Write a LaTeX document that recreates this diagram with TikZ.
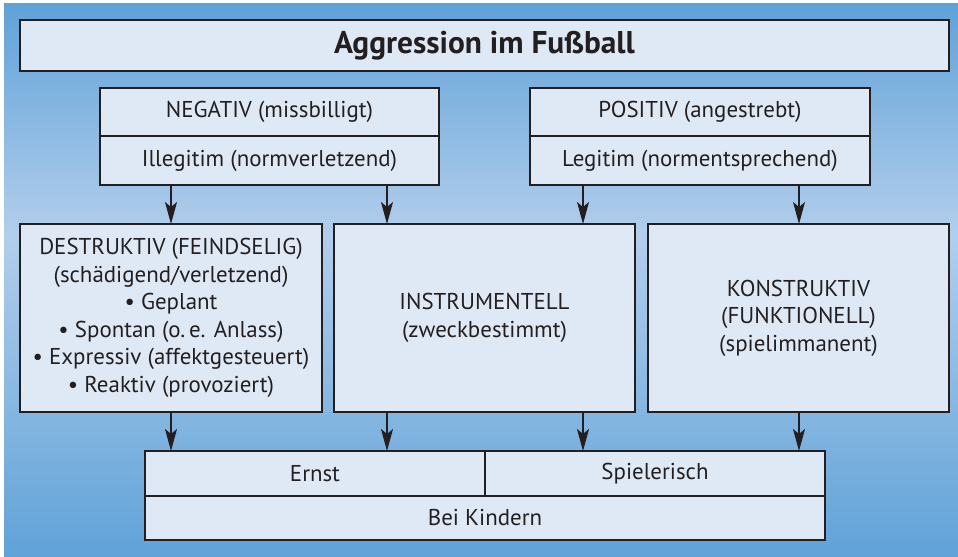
\documentclass[tikz,border=0pt]{standalone}
\usepackage{fontspec}
\setmainfont{PT Sans}
\usetikzlibrary{arrows.meta}
\definecolor{bgdark}{RGB}{96,162,216}
\definecolor{bglight}{RGB}{178,206,236}
\definecolor{boxfill}{RGB}{223,233,246}
\definecolor{ink}{RGB}{35,31,32}
\tikzset{
  panel/.style={draw=ink, line width=1.3bp, fill=boxfill, text=ink, align=center,
    inner sep=0pt, outer sep=0pt},
  bigtxt/.style={font=\fontsize{23}{28}\selectfont},
  midtxt/.style={font=\fontsize{23}{27.6}\selectfont},
  arr/.style={draw=ink, line width=1.3bp, -{Stealth[length=22bp, width=12bp, inset=5bp]}},
}
\begin{document}
\begin{tikzpicture}[x=1bp, y=-1bp]
  \useasboundingbox (0,0) rectangle (958,557);
  % page background: white rim, blue vertical gradient
  \fill[white] (0,0) rectangle (958,557);
  \shade[top color=bgdark, bottom color=bglight] (4,4) rectangle (958,235);
  \shade[top color=bglight, bottom color=bgdark] (4,234.5) rectangle (958,557);

  % title
  \node[panel, minimum width=929bp, minimum height=51bp,
        font=\fontsize{31.5}{34}\selectfont\bfseries] (title) at (484.5,45.5)
        {Aggression im Fußball};

  % upper pair of evaluation boxes
  \node[panel, bigtxt, minimum width=339bp, minimum height=48bp] (negA) at (269.5,112) {NEGATIV (missbilligt)};
  \node[panel, bigtxt, minimum width=339bp, minimum height=49bp] (negB) at (269.5,160.5) {Illegitim (normverletzend)};
  \node[panel, bigtxt, minimum width=340bp, minimum height=48bp] (posA) at (700,112) {POSITIV (angestrebt)};
  \node[panel, bigtxt, minimum width=340bp, minimum height=49bp] (posB) at (700,160.5) {Legitim (normentsprechend)};

  % three kinds of aggression
  \node[panel, midtxt, minimum width=302bp, minimum height=188bp] (des) at (171,318)
    {DESTRUKTIV (FEINDSELIG)\\(schädigend/verletzend)\\• Geplant\\• Spontan (o.\,e. Anlass)\\• Expressiv (affektgesteuert)\\• Reaktiv (provoziert)};
  \node[panel, midtxt, minimum width=301bp, minimum height=188bp] (ins) at (484.5,318)
    {INSTRUMENTELL\\(zweckbestimmt)};
  \node[panel, midtxt, minimum width=301bp, minimum height=188bp] (kon) at (798.5,318)
    {KONSTRUKTIV\\(FUNKTIONELL)\\(spielimmanent)};

  % bottom block
  \node[panel, bigtxt, minimum width=340bp, minimum height=45bp] (ernst) at (315,473.5) {Ernst};
  \node[panel, bigtxt, minimum width=340bp, minimum height=45bp] (spiel) at (655,473.5) {Spielerisch};
  \node[panel, bigtxt, minimum width=680bp, minimum height=44bp] (kind) at (485,518) {Bei Kindern};

  % arrow columns
  \coordinate (c1) at (171,0);
  \coordinate (c2) at (387,0);
  \coordinate (c3) at (583,0);
  \coordinate (c4) at (799,0);

  \draw[arr] (negB.south -| c1) -- (des.north -| c1);
  \draw[arr] (negB.south -| c2) -- (ins.north -| c2);
  \draw[arr] (posB.south -| c3) -- (ins.north -| c3);
  \draw[arr] (posB.south -| c4) -- (kon.north -| c4);

  \draw[arr] (des.south -| c1) -- (ernst.north -| c1);
  \draw[arr] (ins.south -| c2) -- (ernst.north -| c2);
  \draw[arr] (ins.south -| c3) -- (spiel.north -| c3);
  \draw[arr] (kon.south -| c4) -- (spiel.north -| c4);
\end{tikzpicture}
\end{document}
